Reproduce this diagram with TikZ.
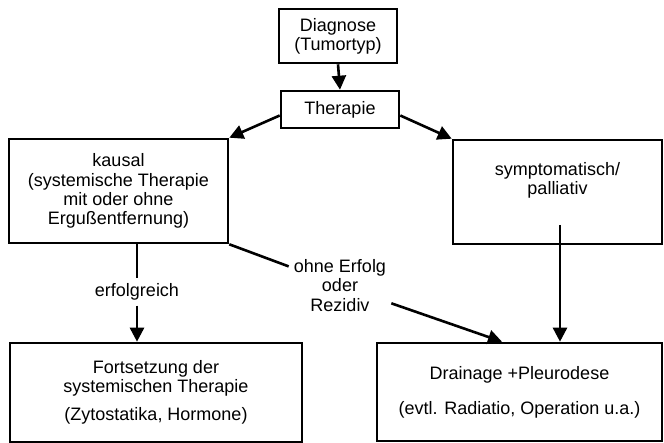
\documentclass[tikz,border=0pt]{standalone}
\usepackage{fontspec}
\setmainfont{Liberation Sans}
\usetikzlibrary{arrows.meta}
\begin{document}
\begin{tikzpicture}[x=0.5pt,y=-0.5pt,line width=1.3pt,>={Triangle[length=7pt,width=7pt]},
  box/.style={draw,align=center,inner sep=0pt,font=\fontsize{9}{9.6}\selectfont},
  lbl/.style={align=center,inner sep=2pt,font=\fontsize{9}{9.6}\selectfont}]
\useasboundingbox (0,0) rectangle (664,443);
\node (diag) at (338,36) [box,minimum width=59pt,minimum height=27pt] {Diagnose\\(Tumortyp)};
\node (ther) at (340,109.5) [box,minimum width=59pt,minimum height=18.5pt] {Therapie};
\node (kausal) at (118.5,191) [box,minimum width=109.5pt,minimum height=52pt]
  {kausal\\(systemische Therapie\\mit oder ohne\\Ergußentfernung)};
\node (palliat) at (557.5,192) [box,minimum width=104.5pt,minimum height=52pt]
  {symptomatisch/\\palliativ\\[4pt]};
\node (fort) at (156,392.5) [box,minimum width=146pt,minimum height=49.5pt]
  {Fortsetzung der\\systemischen Therapie\\[4.5pt](Zytostatika, Hormone)};
\node (drain) at (519.5,392) [box,minimum width=142.5pt,minimum height=49pt]
  {Drainage +Pleurodese\\[8pt](evtl. Radiatio, Operation u.a.)};
\node (erfolg) at (137,292) [lbl] {erfolgreich};
\node (fail) at (340,285.5) [lbl] {ohne Erfolg\\oder\\Rezidiv};
\coordinate (palout) at (560,225);
\draw[->] (diag.south) -- (ther.north);
\draw[->] ([yshift=-3pt]ther.west) -- (kausal.north east);
\draw[->] ([yshift=-3pt]ther.east) -- (palliat.north west);
\draw (kausal.south -| erfolg) -- (erfolg); \draw[->] (erfolg) -- (fort.north -| erfolg);
\draw (kausal.south east) -- (fail); \draw[->] (fail) -- ([xshift=-8.75pt]drain.north);
\draw[->] (palout) -- (drain.north -| palout);
\end{tikzpicture}
\end{document}
